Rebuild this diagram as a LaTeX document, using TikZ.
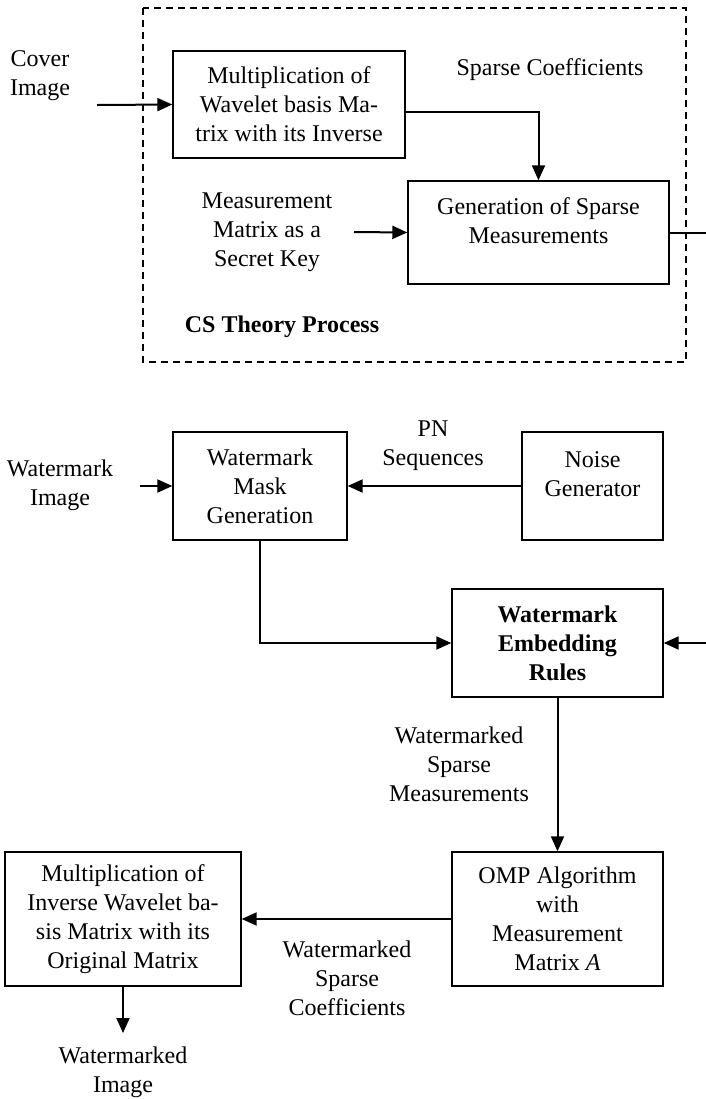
\documentclass[tikz,border=0pt]{standalone}
\usepackage{fontspec}
\setmainfont{Liberation Serif}
\usetikzlibrary{arrows.meta}

% pushes the text of a box a little towards its top edge
\newcommand{\raisetext}{\\[-3pt]\mbox{}}

\begin{document}
\begin{tikzpicture}[
      x=0.5pt, y=-0.5pt,
      font=\fontsize{12}{14.5}\selectfont,
      block/.style={draw, line width=0.7pt, rectangle, align=center, inner sep=2pt}, % boxes of the chain
      tag/.style={align=center, inner sep=0pt},
      flow/.style={line width=1pt, -{Triangle[length=7.5pt, width=6.5pt]}},
      wire/.style={line width=1pt}
    ]
    \useasboundingbox (0,0) rectangle (706,1099);

    % CS theory part, inside the dashed frame
    \draw [dashed, line width=0.7pt, dash pattern=on 3.5pt off 2.5pt] (143,8) rectangle (686,362);
    \node [tag] (cover) at (40,76) {Cover\\Image};
    \coordinate (coverin) at (97,105);
    \node [block, minimum width=116pt, minimum height=53.5pt] (mult) at (289,104.5)
      {Multiplication of\\Wavelet basis Ma-\\trix with its Inverse};
    \node [tag] (sparse) at (550,70) {Sparse Coefficients};
    \node [block, minimum width=130.5pt, minimum height=51.5pt] (gen) at (538.5,232.5)
      {Generation of Sparse\\Measurements\raisetext};
    \node [tag] (key) at (267,232) {Measurement\\Matrix as a\\Secret Key};
    \coordinate (keyin) at (354,232);
    \coordinate (genout) at (706,232.5);
    \node [tag, font=\fontsize{12}{14.5}\selectfont\bfseries] (cs) at (282,327) {CS Theory Process};

    \draw [flow] (coverin) -- (mult.west);
    \draw [flow] ([yshift=-3.5pt]mult.east) -| (gen.north);
    \draw [flow] (keyin) -- (gen.west);
    \draw [wire] (gen.east) -- (genout);

    % watermark part
    \node [tag] (wm) at (60,485) {Watermark\\Image};
    \coordinate (wmin) at (140,486);
    \node [block, minimum width=87pt, minimum height=54pt] (mask) at (260,486)
      {Watermark\\Mask\\Generation};
    \node [block, minimum width=70.5pt, minimum height=54pt] (noise) at (592.5,486)
      {Noise\\Generator\raisetext};
    \node [tag] (pn) at (433,446) {PN\\Sequences};
    \node [block, minimum width=105.5pt, minimum height=54pt, font=\fontsize{12}{14.5}\selectfont\bfseries] (embed) at (557.5,643)
      {Watermark\\Embedding\\Rules};
    \coordinate (embedin) at (706,643);

    \draw [flow] (wmin) -- (mask.west);
    \draw [flow] (noise.west) -- (mask.east);
    \draw [flow] (mask.south) |- (embed.west);
    \draw [flow] (embedin) -- (embed.east);

    % reconstruction part
    \node [tag] (wsm) at (459,764) {Watermarked\\Sparse\\Measurements};
    \node [block, minimum width=105.5pt, minimum height=67pt] (omp) at (557.5,919)
      {OMP Algorithm\\with\\Measurement\\Matrix \textit{A}};
    \node [block, minimum width=118pt, minimum height=67pt] (inv) at (123,919)
      {Multiplication of\\Inverse Wavelet ba-\\sis Matrix with its\\Original Matrix};
    \node [tag] (wsc) at (347,978) {Watermarked\\Sparse\\Coefficients};
    \coordinate (outtip) at (123,1033);
    \node [tag] (out) at (123,1072) {Watermarked\\Image};

    \draw [flow] (embed.south) -- (omp.north);
    \draw [flow] (omp.west) -- (inv.east);
    \draw [flow] (inv.south) -- (outtip);
\end{tikzpicture}
\end{document}
